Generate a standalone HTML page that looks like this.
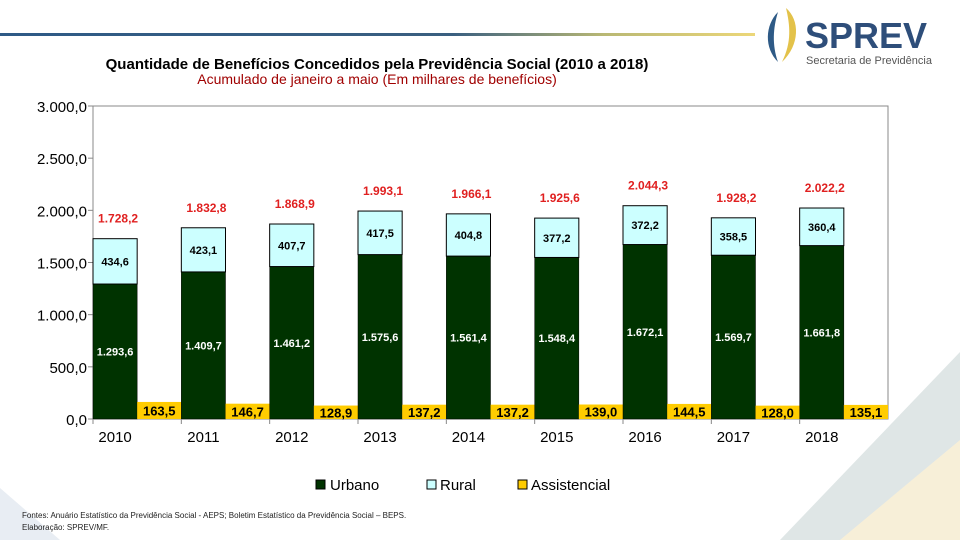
<!DOCTYPE html>
<html><head><meta charset="utf-8"><style>
body{margin:0;width:960px;height:540px;overflow:hidden;background:#fff;font-family:"Liberation Sans",sans-serif}
svg{display:block}
</style></head><body>
<svg id="c" width="960" height="540" xmlns="http://www.w3.org/2000/svg">
<defs><linearGradient id="hl" x1="0" x2="1"><stop offset="0" stop-color="#2e5a86"/><stop offset="0.6" stop-color="#3a5f80"/><stop offset="0.8" stop-color="#b9b874"/><stop offset="1" stop-color="#ecd779"/></linearGradient></defs>
<polygon points="780,540 960,352 960,540" fill="#dfe6e6"/>
<polygon points="840,540 960,440 960,540" fill="#f7efd8"/>
<polygon points="0,488 60,540 0,540" fill="#e8edf3"/>
<rect x="0" y="33" width="755" height="3" fill="url(#hl)"/>
<g>
<path d="M778,12 C765,25 764,48 778,62 C772,45 773,28 778,12Z" fill="#2e5a86"/>
<path d="M786,8 C800,20 800,45 782,62 C792,42 790,25 786,8Z" fill="#e3c24a"/>
<text x="805" y="48" font-size="36" font-weight="bold" fill="#2e4e7a" font-family="Liberation Sans">SPREV</text>
<text x="806" y="64" font-size="11" fill="#555">Secretaria de Previdência</text>
</g>
<text x="377" y="69" text-anchor="middle" font-size="15" font-weight="bold" fill="#000">Quantidade de Benefícios Concedidos pela Previdência Social (2010 a 2018)</text>
<text x="377" y="84" text-anchor="middle" font-size="14" fill="#a00000">Acumulado de janeiro a maio (Em milhares de benefícios)</text>
<rect x="93" y="106" width="795" height="313" fill="#fff" stroke="#888"/>
<g id="plot"></g>
<g>
<rect x="316" y="480" width="9" height="9" fill="#003300" stroke="#000"/>
<text x="330" y="490" font-size="15">Urbano</text>
<rect x="427" y="480" width="9" height="9" fill="#ccffff" stroke="#000"/>
<text x="440" y="490" font-size="15">Rural</text>
<rect x="518" y="480" width="9" height="9" fill="#ffcc00" stroke="#000"/>
<text x="531" y="490" font-size="15">Assistencial</text>
</g>
<text x="22" y="518" font-size="8" fill="#222">Fontes: Anuário Estatístico da Previdência Social - AEPS; Boletim Estatístico da Previdência Social – BEPS.</text>
<text x="22" y="530" font-size="8" fill="#222">Elaboração: SPREV/MF.</text>
</svg>
<script>
const categories=["2010","2011","2012","2013","2014","2015","2016","2017","2018"];
const urbano=[1293.6,1409.7,1461.2,1575.6,1561.4,1548.4,1672.1,1569.7,1661.8];
const rural=[434.6,423.1,407.7,417.5,404.8,377.2,372.2,358.5,360.4];
const assistencial=[163.5,146.7,128.9,137.2,137.2,139.0,144.5,128.0,135.1];
const totals=[1728.2,1832.8,1868.9,1993.1,1966.1,1925.6,2044.3,1928.2,2022.2];
const yTicks=[0,500,1000,1500,2000,2500,3000];
const NS="http://www.w3.org/2000/svg";
const g=document.getElementById('plot');
const x0=93,x1=888,y0=419,yTop=106,ymax=3000;
const bw=(x1-x0)/categories.length;
const y=v=>y0-(v/ymax)*(y0-yTop);
const fmt=v=>{let s=v.toFixed(1).replace('.',',');let [a,b]=s.split(',');a=a.replace(/\B(?=(\d{3})+(?!\d))/g,'.');return a+','+b;};
function el(t,a,txt){const e=document.createElementNS(NS,t);for(const k in a)e.setAttribute(k,a[k]);if(txt!==undefined)e.textContent=txt;g.appendChild(e);return e;}
yTicks.forEach(v=>{
 const t=el('text',{x:87,y:y(v)+6,'text-anchor':'end','font-size':15,fill:'#000'},fmt(v));
 
 
 const l=el('line',{x1:88,x2:93,y1:y(v),y2:y(v),stroke:'#888'});
 
 
});
categories.forEach((c,i)=>{
 const xl=x0+i*bw, w=bw/2, cx=xl+w/2;
 const u=el('rect',{x:xl,y:y(urbano[i]),width:w,height:y0-y(urbano[i]),fill:'#003300',stroke:'#000','stroke-width':0.5});
 
 
 const r=el('rect',{x:xl,y:y(urbano[i]+rural[i]),width:w,height:y(urbano[i])-y(urbano[i]+rural[i]),fill:'#ccffff',stroke:'#000','stroke-width':1});
 
 
 const a=el('rect',{x:xl+w,y:y(assistencial[i]),width:w,height:y0-y(assistencial[i]),fill:'#ffcc00'});
 
 
 const ut=el('text',{x:cx,y:(y0+y(urbano[i]))/2+4,'text-anchor':'middle','font-size':11,'font-weight':'bold',fill:'#fff'},fmt(urbano[i]));
 
 
 const rt=el('text',{x:cx,y:(y(urbano[i])+y(urbano[i]+rural[i]))/2+4,'text-anchor':'middle','font-size':11,'font-weight':'bold',fill:'#000'},fmt(rural[i]));
 
 
 const at=el('text',{x:xl+w+w/2,y:(y0+y(assistencial[i]))/2+5,'text-anchor':'middle','font-size':13,'font-weight':'bold',fill:'#000'},fmt(assistencial[i]));
 
 
 const tt=el('text',{x:cx+3,y:y(totals[i])-20+4,'text-anchor':'middle','font-size':12,'font-weight':'bold',fill:'#e02020'},fmt(totals[i]));
 
 
 const xt=el('text',{x:cx,y:442,'text-anchor':'middle','font-size':15,fill:'#000'},c);
 
 
 const xk=el('line',{x1:xl,x2:xl,y1:419,y2:424,stroke:'#888'});
 
 
});
</script>
</body></html>
